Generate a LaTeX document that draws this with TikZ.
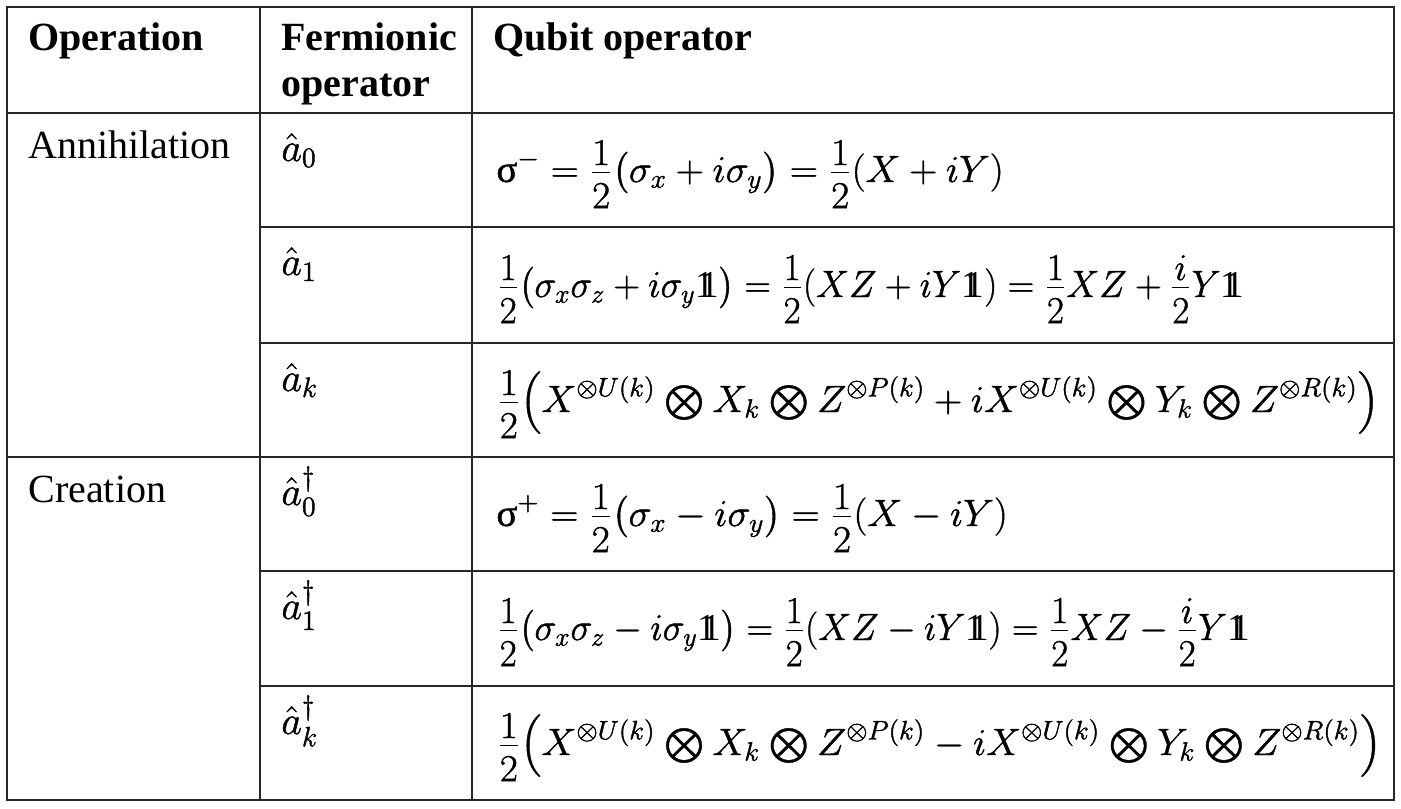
\RequirePackage{fix-cm}
\documentclass[tikz,border=0pt]{standalone}
\usepackage{amsmath}
\usepackage{graphicx}
\usepackage{fontspec}
\setmainfont{Liberation Serif}
\newcommand{\thickon}{\special{pdf:literal direct 2 Tr 0.2 w}}
\newcommand{\thickoff}{\special{pdf:literal direct 0 Tr 1 w}}
\newcommand{\unit}{\mathord{\thickoff\mathrm{1}\mkern-6.8mu\mathrm{1}\thickon}}
\newcommand{\bigot}{\mathbin{\textstyle\bigotimes}}
\newcommand{\fr}[2]{\frac{\raisebox{-0.23em}{$#1$}}{#2}}
\begin{document}
\begin{tikzpicture}[x=0.5pt,y=-0.5pt,
  grid/.style={line width=1pt,draw=black!85},
  head/.style={anchor=base west,inner sep=0pt,font=\fontsize{20}{24}\selectfont\bfseries},
  cell/.style={anchor=base west,inner sep=0pt,font=\fontsize{20}{24}\selectfont},
  fml/.style={anchor=base west,inner sep=0pt,font=\fontsize{19}{23}\selectfont,
    execute at begin node=\thickon, execute at end node=\thickoff},
  fop/.style={fml,font=\fontsize{20}{24}\selectfont}]
\useasboundingbox (0,0) rectangle (1401,808);
% grid
\draw[grid] (7,7) rectangle (1394,800);
\draw[grid] (260,7) -- (260,800);
\draw[grid] (472,7) -- (472,800);
\draw[grid] (7,113) -- (1394,113);
\draw[grid] (7,457) -- (1394,457);
\foreach \yy in {227,343,571,686} \draw[grid] (260,\yy) -- (1394,\yy);
% headers
\node[head] (h1) at (28,51) {Operation};
\node[head] (h2a) at (281,51) {Fermionic};
\node[head] (h2b) at (281,97) {operator};
\node[head] (h3) at (493,51) {Qubit operator};
% operations
\node[cell] (ann) at (28,158) {Annihilation};
\node[cell] (cre) at (28,502) {Creation};
% fermionic operators
\node[fop] (f1) at (281,161) {$\hat{a}_0$};
\node[fop] (f2) at (281,275) {$\hat{a}_1$};
\node[fop] (f3) at (281,391) {$\hat{a}_k$};
\node[fop] (f4) at (281,505) {$\hat{a}_0^{\dagger}$};
\node[fop] (f5) at (281,619) {$\hat{a}_1^{\dagger}$};
\node[fop] (f6) at (281,734) {$\hat{a}_k^{\dagger}$};
% qubit operators
\node[fml] (q1) at (496,182) {\scalebox{1.03}[1]{$\displaystyle \text{σ}^{-} = \fr{1}{2}\bigl(\sigma_x + i\sigma_y\bigr) = \fr{1}{2}(X + iY)$}};
\node[fml] (q2) at (497,297) {\scalebox{0.975}[1]{$\displaystyle \fr{1}{2}\bigl(\sigma_x\sigma_z + i\sigma_y\unit\bigr) = \fr{1}{2}(XZ + iY\unit) = \fr{1}{2}XZ + \fr{i}{2}Y\unit$}};
\node[fml] (q3) at (497,412) {\scalebox{1.03}[1]{$\displaystyle \fr{1}{2}\Bigl(X^{\otimes U(k)} \bigot X_k \bigot Z^{\otimes P(k)} + iX^{\otimes U(k)} \bigot Y_k \bigot Z^{\otimes R(k)}\Bigr)$}};
\node[fml] (q4) at (496,526) {\scalebox{1.03}[1]{$\displaystyle \text{σ}^{+} = \fr{1}{2}\bigl(\sigma_x - i\sigma_y\bigr) = \fr{1}{2}(X - iY)$}};
\node[fml] (q5) at (497,640) {\scalebox{0.975}[1]{$\displaystyle \fr{1}{2}\bigl(\sigma_x\sigma_z - i\sigma_y\unit\bigr) = \fr{1}{2}(XZ - iY\unit) = \fr{1}{2}XZ - \fr{i}{2}Y\unit$}};
\node[fml] (q6) at (497,755) {\scalebox{1.03}[1]{$\displaystyle \fr{1}{2}\Bigl(X^{\otimes U(k)} \bigot X_k \bigot Z^{\otimes P(k)} - iX^{\otimes U(k)} \bigot Y_k \bigot Z^{\otimes R(k)}\Bigr)$}};
\end{tikzpicture}
\end{document}
